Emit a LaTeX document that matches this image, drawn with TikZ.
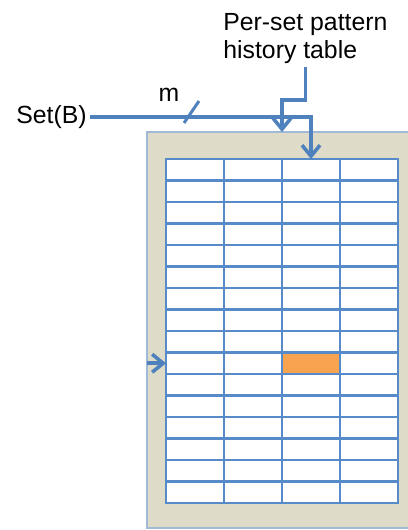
\documentclass[tikz,border=0pt]{standalone}
\usepackage{fontspec}
\setmainfont{Liberation Sans}
\usetikzlibrary{arrows.meta}

\definecolor{linkblue}{RGB}{79,129,189}
\definecolor{gridblue}{RGB}{86,138,200}
\definecolor{panelbeige}{RGB}{222,219,201}
\definecolor{panelline}{RGB}{160,185,214}
\definecolor{hitorange}{RGB}{247,163,80}

\begin{document}
\begin{tikzpicture}[x = 0.5pt, y = -0.5pt,
	lbl/.style = {font=\fontsize{12.4}{14}\selectfont, inner sep=1.5pt},
	link/.style = {line width=1.8pt, linkblue, -{Straight Barb[length=5.5pt,width=9pt]}},
	cell/.style = {draw=gridblue, line width=1.2pt, fill=white, minimum width=29pt, minimum height=10.75pt, inner sep=0pt, outer sep=0pt}]

	\useasboundingbox (0,0) rectangle (407,530);

	\node [fill=panelbeige, draw=panelline, line width=0.6pt, anchor=north west, minimum width=200pt, minimum height=198pt, inner sep=0pt, outer sep=0pt] (panel) at (147,132) {};

	% pattern history table, 16 x 4
	\foreach \r in {0,...,15}
		\foreach \c in {0,...,3}
			\node [cell] (c-\r-\c) at ({195+58*\c},{169.75+21.5*\r}) {};
	\node [cell, fill=hitorange] (hit) at (c-9-2) {};

	\node [lbl, anchor=east] (setb) at (90,117) {Set(B)};
	\node [lbl] (m) at (169,95) {m};
	\node [lbl, align=left, anchor=north west] (pht) at (220,10) {Per-set pattern\\history table};

	\coordinate (tick) at (191,112);
	\coordinate (bend) at (282,100);

	\draw [link] (setb.east) -- (c-0-2.north |- setb.east) -- (c-0-2.north);
	\draw [line width=1.5pt, linkblue] ([shift={(-7,11)}]tick) -- ([shift={(8,-11)}]tick);
	\draw [link] (pht.south) |- (bend) -- (bend |- panel.north);
	\draw [link] (panel.west |- c-9-0.west) -- (c-9-0.west);

\end{tikzpicture}
\end{document}
